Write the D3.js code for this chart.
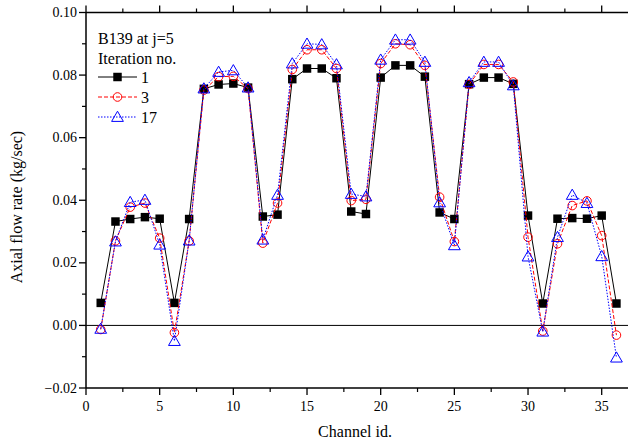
<!DOCTYPE html>
<html><head><meta charset="utf-8">
<script src="https://cdn.jsdelivr.net/npm/d3@7"></script>
<style>body{margin:0;background:#fff}svg{display:block}text{font-family:"Liberation Serif","Times New Roman",serif}</style>
</head><body>
<svg id="c" width="628" height="443"></svg>
<script>
const channels = d3.range(1, 37);
const iter1 = [0.0072,0.0332,0.0340,0.0346,0.0341,0.0072,0.0340,0.0756,0.0770,0.0773,0.0760,0.0348,0.0354,0.0787,0.0821,0.0821,0.0790,0.0364,0.0356,0.0792,0.0831,0.0831,0.0795,0.0361,0.0340,0.0771,0.0792,0.0792,0.0772,0.0351,0.0070,0.0341,0.0343,0.0341,0.0351,0.0070];
const iter3 = [-0.0013,0.0270,0.0378,0.0391,0.0279,-0.0023,0.0270,0.0752,0.0795,0.0796,0.0757,0.0263,0.0391,0.0818,0.0881,0.0881,0.0821,0.0399,0.0403,0.0837,0.0900,0.0897,0.0831,0.0410,0.0268,0.0770,0.0834,0.0834,0.0778,0.0282,-0.0018,0.0261,0.0383,0.0398,0.0287,-0.0031];
const iter17 = [-0.0011,0.0268,0.0394,0.0401,0.0258,-0.0050,0.0271,0.0757,0.0810,0.0815,0.0760,0.0274,0.0417,0.0837,0.0900,0.0898,0.0834,0.0420,0.0412,0.0849,0.0913,0.0913,0.0842,0.0393,0.0256,0.0777,0.0842,0.0842,0.0767,0.0220,-0.0020,0.0282,0.0417,0.0391,0.0221,-0.0103];
const xTicks = [0,5,10,15,20,25,30,35];
const yTicks = [-0.02,0.00,0.02,0.04,0.06,0.08,0.10];
const seriesNames = ["1","3","17"];

const svg = d3.select("#c");
const x = d3.scaleLinear().domain([0,35]).range([86,601.7]);
const y = d3.scaleLinear().domain([-0.02,0.10]).range([388,12.5]);
const xR = 628;

// frame lines
svg.append("line").attr("x1",86).attr("x2",xR).attr("y1",388).attr("y2",388).attr("stroke","#000").attr("stroke-width",1.5);
svg.append("line").attr("x1",86).attr("x2",xR).attr("y1",12.5).attr("y2",12.5).attr("stroke","#000").attr("stroke-width",1.5);
svg.append("line").attr("x1",86).attr("x2",86).attr("y1",12.5).attr("y2",388).attr("stroke","#000").attr("stroke-width",1.5);
// zero line
svg.append("line").attr("x1",86).attr("x2",xR).attr("y1",y(0)).attr("y2",y(0)).attr("stroke","#000").attr("stroke-width",1);

// x ticks
const xMinor = d3.range(2.5, 40, 5);
xTicks.forEach(t=>{
  svg.append("line").attr("x1",x(t)).attr("x2",x(t)).attr("y1",388).attr("y2",395).attr("stroke","#000").attr("stroke-width",1.3);
  svg.append("line").attr("x1",x(t)).attr("x2",x(t)).attr("y1",12.5).attr("y2",5.5).attr("stroke","#000").attr("stroke-width",1.3);
  svg.append("text").attr("x",x(t)).attr("y",411).attr("text-anchor","middle").attr("font-size",14).text(t);
});
xMinor.filter(t=>x(t)<xR).forEach(t=>{
  svg.append("line").attr("x1",x(t)).attr("x2",x(t)).attr("y1",388).attr("y2",392).attr("stroke","#000").attr("stroke-width",1.2);
  svg.append("line").attr("x1",x(t)).attr("x2",x(t)).attr("y1",12.5).attr("y2",8.5).attr("stroke","#000").attr("stroke-width",1.2);
});
// y ticks
yTicks.forEach(t=>{
  svg.append("line").attr("x1",86).attr("x2",79).attr("y1",y(t)).attr("y2",y(t)).attr("stroke","#000").attr("stroke-width",1.3);
  svg.append("text").attr("x",77).attr("y",y(t)+4.5).attr("text-anchor","end").attr("font-size",14).text(d3.format(".2f")(t));
});
d3.range(-0.01,0.10,0.02).forEach(t=>{
  svg.append("line").attr("x1",86).attr("x2",82).attr("y1",y(t)).attr("y2",y(t)).attr("stroke","#000").attr("stroke-width",1.2);
});

svg.append("text").attr("x",355).attr("y",437).attr("text-anchor","middle").attr("font-size",16).text("Channel id.");
svg.append("text").attr("transform","translate(22,207) rotate(-90)").attr("text-anchor","middle").attr("font-size",16).text("Axial flow rate (kg/sec)");

const styles = [
  {data:iter1, color:"#000", dash:null, marker:"square"},
  {data:iter3, color:"#ff0000", dash:"4,2", marker:"circle"},
  {data:iter17, color:"#0000ff", dash:"1.5,1.5", marker:"triangle"}
];
const sq = d3.symbol().type(d3.symbolSquare).size(72);
const tri = d3.symbol().type(d3.symbolTriangle).size(60);
function drawMarker(g, cx, cy, s){
  if(s.marker==="square"){
    g.append("path").attr("d",sq()).attr("transform",`translate(${cx},${cy})`).attr("fill","#000");
  } else if(s.marker==="circle"){
    g.append("circle").attr("cx",cx).attr("cy",cy).attr("r",4.3).attr("fill","none").attr("stroke",s.color).attr("stroke-width",1);
  } else {
    g.append("path").attr("d",tri()).attr("transform",`translate(${cx},${cy+1})`).attr("fill","none").attr("stroke",s.color).attr("stroke-width",1);
  }
}
const line = d3.line().x((d,i)=>x(channels[i])).y(d=>y(d));
styles.forEach(s=>{
  const g = svg.append("g");
  g.append("path").attr("d",line(s.data)).attr("fill","none").attr("stroke",s.color).attr("stroke-width",1).attr("stroke-dasharray",s.dash);
  s.data.forEach((v,i)=>drawMarker(g,x(channels[i]),y(v),s));
});

// legend
svg.append("text").attr("x",98).attr("y",44).attr("font-size",16).text("B139 at j=5");
svg.append("text").attr("x",98).attr("y",64).attr("font-size",16).text("Iteration no.");
styles.forEach((s,i)=>{
  const ly = 77 + i*20;
  const g = svg.append("g");
  g.append("line").attr("x1",98).attr("x2",137).attr("y1",ly).attr("y2",ly).attr("stroke",s.color).attr("stroke-width",1).attr("stroke-dasharray",s.dash);
  drawMarker(g,117.5,ly,s);
  svg.append("text").attr("x",141).attr("y",ly+6).attr("font-size",16).text(seriesNames[i]);
});
</script>
</body></html>
